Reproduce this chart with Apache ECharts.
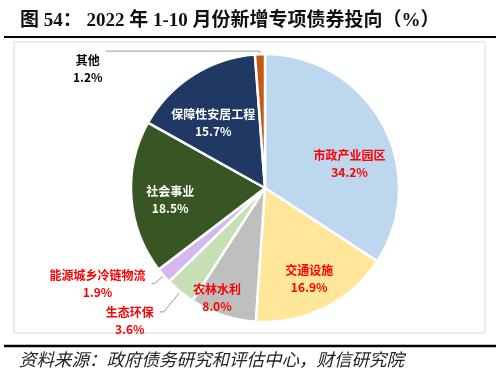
<!DOCTYPE html>
<html>
<head>
<meta charset="utf-8">
<script src="https://cdn.jsdelivr.net/npm/echarts@6/dist/echarts.min.js"></script>
<style>
  html, body { margin: 0; padding: 0; background: #fff; }
  #main { width: 500px; height: 375px; }
</style>
</head>
<body>
<div id="main"></div>
<script>
var myChart = echarts.init(document.getElementById('main'));

// 投向类别 / 占比(%)
var categories = ['市政产业园区', '交通设施', '农林水利', '生态环保', '能源城乡冷链物流', '社会事业', '保障性安居工程', '其他'];
var values = [34.2, 16.9, 8.0, 3.6, 1.9, 18.5, 15.7, 1.2];

var colors = ['#BDD7EE', '#FFE699', '#BFBFBF', '#C5E0B4', '#D5B8EE', '#375623', '#203864', '#C55A11'];
var labelColors = ['#FF0000', '#FF0000', '#FF0000', '#FF0000', '#FF0000', '#FFFFFF', '#FFFFFF', '#000000'];

// inside labels get nudged outward like Excel does
var insideOffset = {
    '市政产业园区': [23, 9],
    '交通设施': [13, 28],
    '农林水利': [-26, 44],
    '社会事业': [-25, 7],
    '保障性安居工程': [-14, -6]
};
// outside labels: leader line lengths, blank lead line drops the text below the line end
var outsideLine = {
    '生态环保': {length: 26, length2: 4, drop: 19},
    '能源城乡冷链物流': {length: 12, length2: 3, drop: 0},
    '其他': {length: 3, length2: 154, drop: 35}
};

var pieData = categories.map(function (name, i) {
    var item = {
        name: name,
        value: values[i],
        itemStyle: {color: colors[i]}
    };
    if (insideOffset[name]) {
        item.label = {position: 'inside', offset: insideOffset[name], color: labelColors[i]};
        item.labelLine = {show: false};
    } else {
        var o = outsideLine[name];
        var w = name.length * 12 + 2;
        item.label = {
            position: 'outside',
            color: labelColors[i],
            formatter: (o.drop ? '{e|}\n' : '') + '{n|{b}}\n{n|{c}%}',
            rich: {
                n: {width: w, align: 'center', color: labelColors[i], fontWeight: 'bold',
                    fontSize: 12, lineHeight: 17, fontFamily: "'Noto Sans CJK SC'"},
                e: {lineHeight: o.drop, height: o.drop}
            }
        };
        item.labelLine = {show: true, length: o.length, length2: o.length2,
            lineStyle: {color: '#999999', width: 1}};
    }
    return item;
});

var option = {
    backgroundColor: '#fff',
    animation: false,
    title: {
        text: '图 54： 2022 年 1-10 月份新增专项债券投向（%）',
        left: 15,
        top: 7,
        textStyle: {
            fontFamily: "'Liberation Serif', 'Noto Sans CJK SC'",
            fontWeight: 'bold',
            fontSize: 19,
            color: '#111'
        }
    },
    graphic: [
        {type: 'line', shape: {x1: 4, y1: 37, x2: 496, y2: 37}, style: {stroke: '#000', lineWidth: 2}},
        {type: 'rect', shape: {x: 14, y: 42, width: 471, height: 291}, style: {fill: 'none', stroke: '#d9d9d9', lineWidth: 1}},
        {type: 'line', shape: {x1: 4, y1: 346, x2: 496, y2: 346}, style: {stroke: '#000', lineWidth: 2.5}},
        {
            type: 'text', left: 19, top: 351,
            style: {
                text: '资料来源：政府债务研究和评估中心，财信研究院',
                font: 'italic 17.5px "Noto Sans CJK SC"',
                fill: '#222'
            }
        }
    ],
    series: [{
        type: 'pie',
        center: [265, 188],
        radius: 134,
        startAngle: 90,
        clockwise: true,
        avoidLabelOverlap: false,
        minShowLabelAngle: 0,
        labelLayout: {hideOverlap: false},
        itemStyle: {borderColor: '#fff', borderWidth: 2.5},
        label: {
            formatter: function (p) { return p.name + '\n' + p.value.toFixed(1) + '%'; },
            fontFamily: "'Noto Sans CJK SC'",
            fontWeight: 'bold',
            fontSize: 12,
            lineHeight: 17,
            align: 'center'
        },
        data: pieData
    }]
};

myChart.setOption(option);
</script>
</body>
</html>
